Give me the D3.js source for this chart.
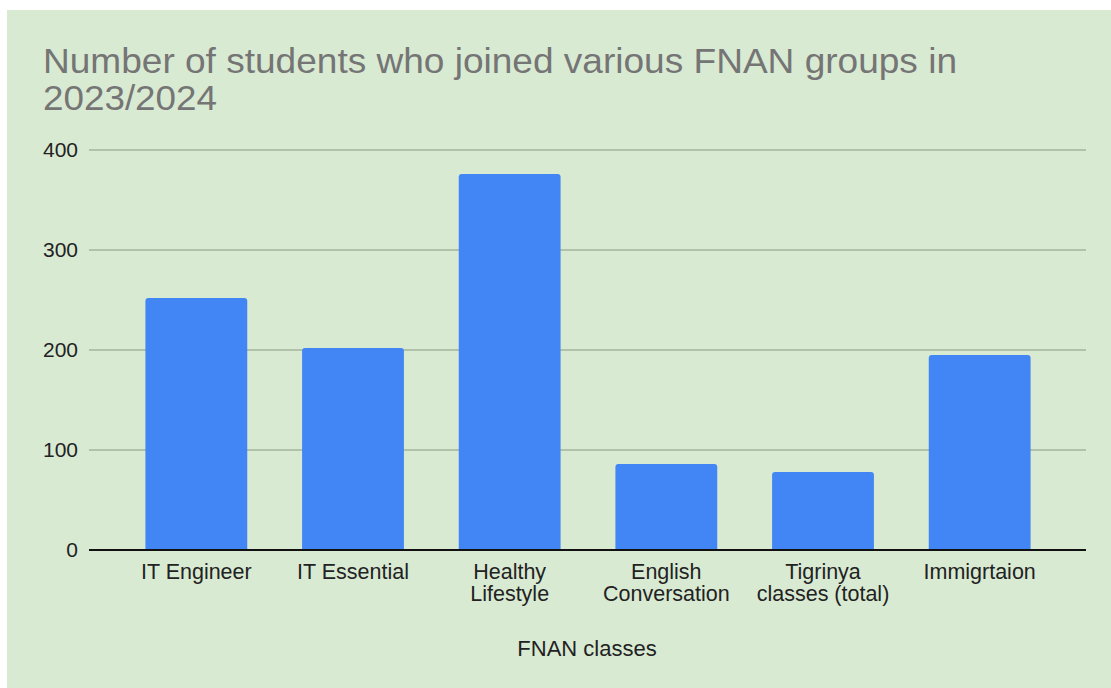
<!DOCTYPE html>
<html>
<head>
<meta charset="utf-8">
<script src="https://cdn.jsdelivr.net/npm/d3@7"></script>
<style>
  body { margin: 0; background: #fff; }
  svg { display: block; font-family: "Liberation Sans", Arial, sans-serif; }
</style>
</head>
<body>
<div id="chart"></div>
<script>
'use strict';

// data
const classes = ["IT Engineer", "IT Essential", "Healthy Lifestyle", "English Conversation", "Tigrinya classes (total)", "Immigrtaion"];
const classLines = [["IT Engineer"], ["IT Essential"], ["Healthy", "Lifestyle"], ["English", "Conversation"], ["Tigrinya", "classes (total)"], ["Immigrtaion"]];
const students = [252, 202, 376, 86, 78, 195];
const yTicks = [0, 100, 200, 300, 400];
const titleLines = ["Number of students who joined various FNAN groups in", "2023/2024"];

const W = 1111, H = 688;

let svg = d3.select("#chart")
  .append("svg")
    .attr("width", W)
    .attr("height", H);

// light green panel
svg.append("rect")
  .attr("x", 7)
  .attr("y", 10)
  .attr("width", W - 7)
  .attr("height", H - 10)
  .style("fill", "#d9ead3");

// title (reference glyphs run a little wider than Arial, so fit the width)
const titleWidths = [914, 174];
svg.append("g")
  .selectAll("text")
  .data(titleLines)
  .enter()
  .append("text")
  .attr("x", 43)
  .attr("y", (d, i) => 72.5 + i * 37.5)
  .attr("textLength", (d, i) => titleWidths[i])
  .attr("lengthAdjust", "spacingAndGlyphs")
  .style("font-size", "35px")
  .style("fill", "#757575")
  .text(d => d);

// scales
let x = d3.scaleBand()
  .domain(classes)
  .range([118, 1058])
  .paddingInner(0.35)
  .paddingOuter(0.175);

let y = d3.scaleLinear()
  .domain([0, 400])
  .range([550, 150]);

// gridlines
svg.append("g")
  .selectAll("line")
  .data(yTicks.filter(d => d > 0))
  .enter()
  .append("line")
  .attr("x1", 89)
  .attr("x2", 1086)
  .attr("y1", d => y(d))
  .attr("y2", d => y(d))
  .style("stroke", "#a4b39c")
  .style("stroke-width", 1.5);

// y tick labels
svg.append("g")
  .selectAll("text")
  .data(yTicks)
  .enter()
  .append("text")
  .attr("x", 78)
  .attr("y", d => y(d) + 7)
  .attr("text-anchor", "end")
  .style("font-size", "21px")
  .style("fill", "#222")
  .text(d => d);

// bars, rounded top corners
const r = 3;
svg.append("g")
  .selectAll("path")
  .data(classes)
  .enter()
  .append("path")
  .attr("d", function(d, i) {
    let x0 = x(d), x1 = x(d) + x.bandwidth();
    let y0 = y(students[i]), yb = y(0);
    return "M" + x0 + "," + yb +
      "V" + (y0 + r) +
      "Q" + x0 + "," + y0 + " " + (x0 + r) + "," + y0 +
      "H" + (x1 - r) +
      "Q" + x1 + "," + y0 + " " + x1 + "," + (y0 + r) +
      "V" + yb + "Z";
  })
  .style("fill", "#4285f4");

// baseline
svg.append("line")
  .attr("x1", 89)
  .attr("x2", 1086)
  .attr("y1", y(0))
  .attr("y2", y(0))
  .style("stroke", "#111")
  .style("stroke-width", 2);

// x tick labels, one text per line
svg.append("g")
  .selectAll("g")
  .data(classes)
  .enter()
  .append("g")
  .each(function(d, i) {
    let g = d3.select(this);
    classLines[i].forEach(function(line, k) {
      g.append("text")
        .attr("x", x(d) + x.bandwidth() / 2)
        .attr("y", 579 + k * 22)
        .attr("text-anchor", "middle")
        .style("font-size", "21.5px")
        .style("fill", "#222")
        .text(line);
    });
  });

// x axis title
svg.append("text")
  .attr("x", 587)
  .attr("y", 656)
  .attr("text-anchor", "middle")
  .style("font-size", "22px")
  .style("fill", "#222")
  .text("FNAN classes");
</script>
</body>
</html>
